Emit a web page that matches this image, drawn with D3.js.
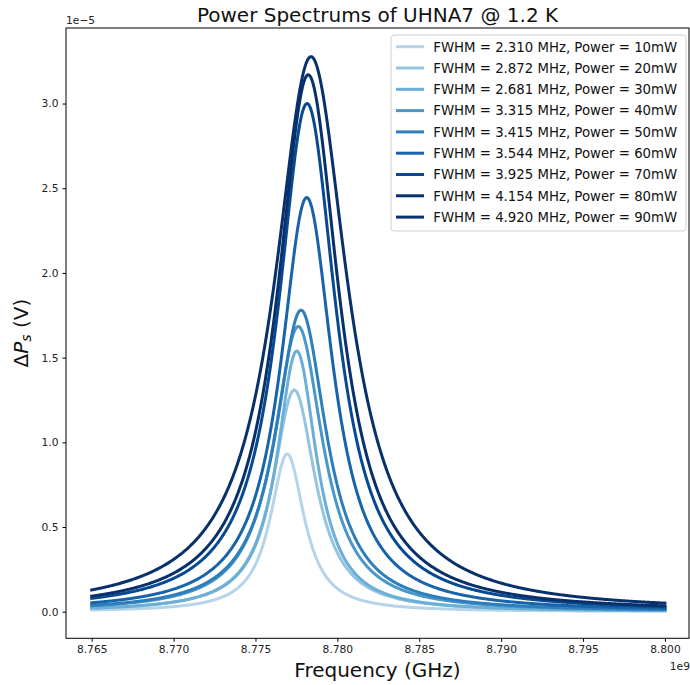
<!DOCTYPE html>
<html lang="en">
  <head>
    <meta charset="utf-8">
    <title>Power Spectrums of UHNA7</title>
    <script src="https://cdn.jsdelivr.net/npm/d3@7/dist/d3.min.js"></script>
    <style>
      body { margin: 0; background: #fff; }
      text { font-family: "DejaVu Sans", sans-serif; }
    </style>
  </head>
  <body>
    <script>
      // series (peak in units of 1e-5 V, centre in GHz, width in MHz)
      var powers = [10, 20, 30, 40, 50, 60, 70, 80, 90];
      var fwhmLegend = ["2.310", "2.872", "2.681", "3.315", "3.415", "3.544", "3.925", "4.154", "4.920"];
      var peaks = [0.931, 1.309, 1.539, 1.684, 1.78, 2.445, 3.00, 3.17, 3.277];
      var centers = [8.77694, 8.77737, 8.77752, 8.77761, 8.77778, 8.77813, 8.77815, 8.77822, 8.77839];
      var widths = [2.54, 3.16, 2.95, 3.65, 3.76, 3.90, 4.32, 4.57, 5.41];
      var colors = ["#b6d4e9", "#94c4df", "#6baed6", "#4a98c9", "#2e7ebc", "#1764ab", "#084a92", "#08306b", "#08306b"];
      var freqRange = [8.765, 8.800];
      var xTicks = [8.765, 8.770, 8.775, 8.780, 8.785, 8.790, 8.795, 8.800];
      var yTicks = [0.0, 0.5, 1.0, 1.5, 2.0, 2.5, 3.0];

      var W = 690, H = 685;
      var mLeft = 66, mRight = 689, mTop = 28, mBottom = 638.3;

      var svg = d3.select("body").append("svg")
                  .attr("width", W)
                  .attr("height", H);

      var x = d3.scaleLinear().domain([8.76343, 8.80147]).range([mLeft, mRight]);
      var y = d3.scaleLinear().domain([-0.157, 3.446]).range([mBottom, mTop]);

      // sample each Lorentzian over the plotted frequency range
      var nPts = 700;
      var freqs = d3.range(nPts).map(function (i) {
        return freqRange[0] + (freqRange[1] - freqRange[0]) * i / (nPts - 1);
      });
      var series = powers.map(function (p, k) {
        var hw = widths[k] / 2000; // half width in GHz
        return freqs.map(function (f) {
          var u = (f - centers[k]) / hw;
          return [f, peaks[k] / (1 + u * u)];
        });
      });

      var line = d3.line()
                   .x(function (d) { return x(d[0]); })
                   .y(function (d) { return y(d[1]); });

      svg.append("g")
         .selectAll("path")
         .data(series)
         .enter()
         .append("path")
         .attr("d", line)
         .attr("fill", "none")
         .attr("stroke", function (d, i) { return colors[i]; })
         .attr("stroke-width", 3)
         .attr("stroke-linecap", "square")
         .attr("stroke-linejoin", "round");

      // axes
      var xAxis = d3.axisBottom(x)
                    .tickValues(xTicks)
                    .tickSize(3.5)
                    .tickPadding(4)
                    .tickFormat(d3.format(".3f"));
      var yAxis = d3.axisLeft(y)
                    .tickValues(yTicks)
                    .tickSize(3.5)
                    .tickPadding(4)
                    .tickFormat(d3.format(".1f"));

      var gx = svg.append("g")
                  .attr("transform", "translate(0," + mBottom + ")")
                  .call(xAxis);
      var gy = svg.append("g")
                  .attr("transform", "translate(" + mLeft + ",0)")
                  .call(yAxis);
      [gx, gy].forEach(function (g) {
        g.select(".domain").remove();
        g.selectAll("line").attr("stroke", "#000").attr("stroke-width", 1);
        g.selectAll("text")
         .attr("font-family", "DejaVu Sans")
         .attr("font-size", "10.7px")
         .attr("fill", "#222");
      });

      // frame
      svg.append("rect")
         .attr("x", mLeft)
         .attr("y", mTop)
         .attr("width", mRight - mLeft)
         .attr("height", mBottom - mTop)
         .attr("fill", "none")
         .attr("stroke", "#000")
         .attr("stroke-width", 1);

      // offset labels
      svg.append("text")
         .attr("x", mLeft)
         .attr("y", 24)
         .attr("font-size", "10.7px")
         .attr("fill", "#222")
         .text("1e\u22125");
      svg.append("text")
         .attr("x", mRight + 1)
         .attr("y", 670)
         .attr("text-anchor", "end")
         .attr("font-size", "10.7px")
         .attr("fill", "#222")
         .text("1e9");

      // title and axis labels
      svg.append("text")
         .attr("x", (mLeft + mRight) / 2)
         .attr("y", 22)
         .attr("text-anchor", "middle")
         .attr("font-size", "20px")
         .attr("fill", "#111")
         .text("Power Spectrums of UHNA7 @ 1.2 K");

      svg.append("text")
         .attr("x", (mLeft + mRight) / 2)
         .attr("y", 676.5)
         .attr("text-anchor", "middle")
         .attr("font-size", "20px")
         .attr("fill", "#111")
         .text("Frequency (GHz)");

      var yl = svg.append("text")
                  .attr("transform", "translate(28," + (mTop + mBottom) / 2 + ") rotate(-90)")
                  .attr("text-anchor", "middle")
                  .attr("font-size", "20px")
                  .attr("fill", "#111");
      yl.append("tspan").text("\u0394");
      yl.append("tspan").attr("font-style", "italic").text("P");
      yl.append("tspan").attr("font-style", "italic").attr("font-size", "14px").attr("dy", 3).text("s");
      yl.append("tspan").attr("dy", -3).text(" (V)");

      // legend
      var lg = svg.append("g");
      lg.append("rect")
        .attr("x", 391)
        .attr("y", 35)
        .attr("width", 295)
        .attr("height", 196)
        .attr("rx", 3)
        .attr("fill", "#fff")
        .attr("fill-opacity", 0.8)
        .attr("stroke", "#d0d0d0")
        .attr("stroke-width", 1);

      var rows = lg.selectAll("g.row")
                   .data(powers)
                   .enter()
                   .append("g")
                   .attr("class", "row")
                   .attr("transform", function (d, i) {
                     return "translate(0," + (46.7 + i * 21.3) + ")";
                   });
      rows.append("line")
          .attr("x1", 396)
          .attr("x2", 424)
          .attr("stroke", function (d, i) { return colors[i]; })
          .attr("stroke-width", 3);
      rows.append("text")
          .attr("x", 433.3)
          .attr("y", 4.8)
          .attr("font-size", "13.3px")
          .attr("fill", "#111")
          .text(function (d, i) {
            return "FWHM = " + fwhmLegend[i] + " MHz, Power = " + d + "mW";
          });
    </script>
  </body>
</html>
